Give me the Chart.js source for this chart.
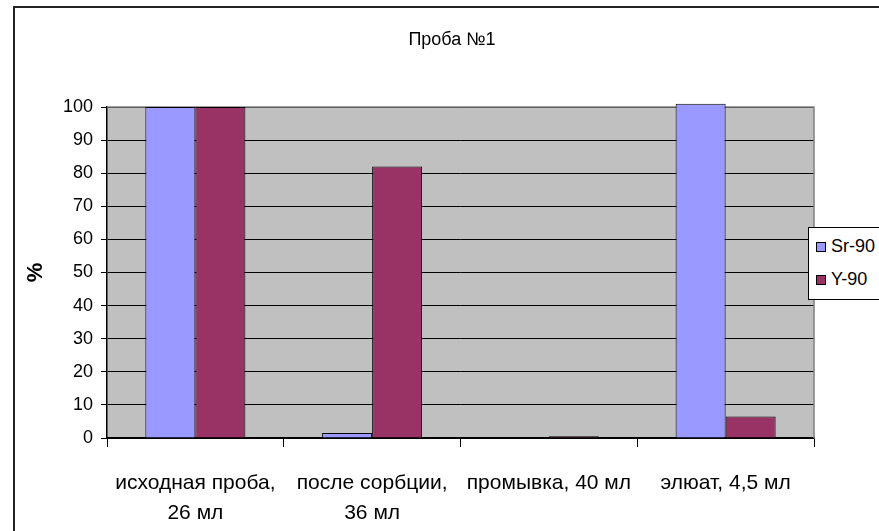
<!DOCTYPE html>
<html>
<head>
<meta charset="utf-8">
<script src="https://cdn.jsdelivr.net/npm/chart.js@4.4.0/dist/chart.umd.min.js"></script>
<style>
  html, body { margin: 0; padding: 0; background: #fff; overflow: hidden; }
  #wrap { position: relative; width: 879px; height: 531px; }
  #frame { position: absolute; left: 13px; top: 6px; width: 1000px; height: 1000px;
           border: 2px solid #222; box-sizing: border-box; pointer-events: none; }
  #legend { position: absolute; left: 808px; top: 227px; width: 100px; height: 73px;
            border: 1px solid #000; background: #fff; box-sizing: border-box;
            font: 18px "Liberation Sans", Arial, sans-serif; color: #000; }
  .item { position: absolute; left: 7px; display: flex; align-items: center; }
  .sw { width: 8px; height: 8px; border: 1px solid #000; margin-right: 5px; }
</style>
</head>
<body>
<div id="wrap">
  <canvas id="c" width="879" height="531"></canvas>
  <div id="frame"></div>
  <div id="legend"></div>
</div>
<script>
// Categories (x axis), each split into lines
const categories = [
  ['исходная проба,', '26 мл'],
  ['после сорбции,', '36 мл'],
  'промывка, 40 мл',
  'элюат, 4,5 мл'
];
// Share of activity, %
const sr90 = [100, 1.5, 0, 101];
const y90 = [100, 82, 0.5, 6.5];
const seriesNames = ['Sr-90', 'Y-90'];
const seriesColors = ['#9999FF', '#993366'];
const yTicks = [0, 10, 20, 30, 40, 50, 60, 70, 80, 90, 100];

const FONT = '"Liberation Sans", Arial, sans-serif';

// Grey plot area with a thin grey frame
const plotArea = {
  id: 'plotArea',
  beforeDraw(chart) {
    const { ctx, chartArea: a } = chart;
    ctx.save();
    ctx.fillStyle = '#C0C0C0';
    ctx.fillRect(a.left, a.top, a.right - a.left, a.bottom - a.top);
    ctx.restore();
  },
  beforeDatasetsDraw(chart) {
    const { ctx, chartArea: a } = chart;
    ctx.save();
    ctx.strokeStyle = '#808080';
    ctx.lineWidth = 1.5;
    ctx.beginPath();
    ctx.moveTo(a.left, a.top);
    ctx.lineTo(a.right, a.top);
    ctx.lineTo(a.right, a.bottom);
    ctx.stroke();
    ctx.restore();
  }
};

const chart = new Chart(document.getElementById('c'), {
  type: 'bar',
  data: {
    labels: categories,
    datasets: [
      { label: seriesNames[0], data: sr90, backgroundColor: seriesColors[0] },
      { label: seriesNames[1], data: y90, backgroundColor: seriesColors[1] }
    ]
  },
  plugins: [plotArea],
  options: {
    responsive: false,
    animation: false,
    events: [],
    layout: { padding: { top: 0, left: 25, right: 0, bottom: 0 } },
    datasets: {
      bar: {
        borderColor: '#000',
        borderWidth: 1,
        categoryPercentage: 0.566,
        barPercentage: 1,
        clip: false
      }
    },
    plugins: {
      legend: { display: false },
      tooltip: { enabled: false },
      title: {
        display: true,
        text: 'Проба №1',
        color: '#000',
        font: { family: FONT, size: 18, weight: 'normal' },
        padding: { top: 29, bottom: 56.4 }
      }
    },
    scales: {
      x: {
        grid: {
          offset: true,
          drawOnChartArea: false,
          drawTicks: true,
          tickLength: 9,
          color: '#000',
          lineWidth: 1
        },
        border: { display: true, color: '#000', width: 1.5 },
        ticks: {
          color: '#000',
          padding: 21,
          maxRotation: 0,
          autoSkip: false,
          font: { family: FONT, size: 21, lineHeight: 1.43 }
        },
        afterFit(s) { s.height = 93; }
      },
      y: {
        min: 0,
        max: 100,
        afterBuildTicks(s) { s.ticks = yTicks.map(v => ({ value: v })); },
        grid: { color: '#000', lineWidth: 1, drawTicks: true, tickLength: 6 },
        border: { display: true, color: '#000', width: 1.5 },
        ticks: {
          color: '#000',
          padding: 8,
          font: { family: FONT, size: 18 }
        },
        title: {
          display: true,
          text: '%',
          color: '#000',
          font: { family: FONT, size: 22, weight: 'bold', lineHeight: 1 },
          padding: { top: 0, bottom: 0 }
        },
        afterFit(s) { s.width = 82; }
      },
      // empty strip on the right that holds the legend
      side: {
        position: 'right',
        display: true,
        grid: { display: false, drawTicks: false },
        border: { display: false },
        ticks: { display: false },
        afterFit(s) { s.width = 65; }
      }
    }
  }
});

// Legend box built from the series definitions
const legend = document.getElementById('legend');
seriesNames.forEach((name, i) => {
  const item = document.createElement('div');
  item.className = 'item';
  item.style.top = (8 + i * 33) + 'px';
  const sw = document.createElement('span');
  sw.className = 'sw';
  sw.style.background = seriesColors[i];
  const t = document.createElement('span');
  t.textContent = name;
  item.appendChild(sw);
  item.appendChild(t);
  legend.appendChild(item);
});
</script>
</body>
</html>
